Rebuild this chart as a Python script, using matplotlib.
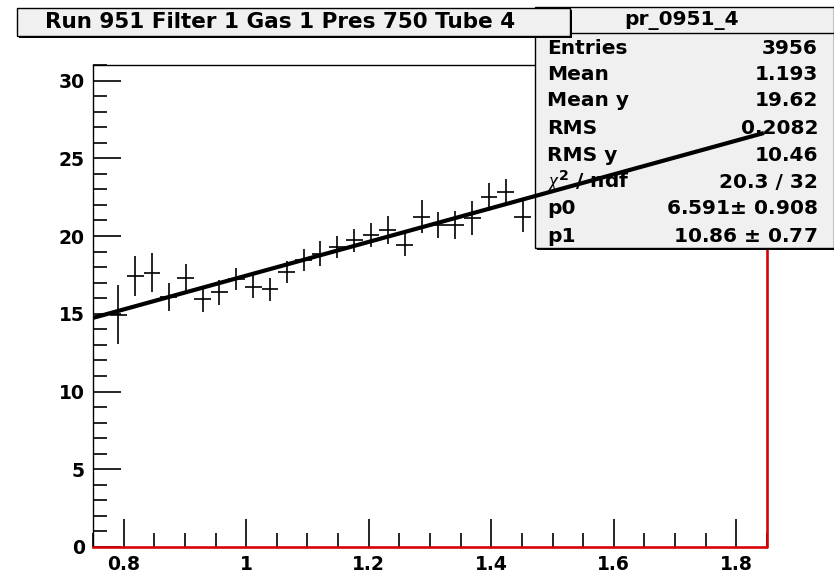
import numpy as np
import matplotlib.pyplot as plt
from matplotlib.patches import Rectangle
from matplotlib.ticker import MultipleLocator

# profile bins (40 bins from 0.75 to 1.85), only the ones that show
x_lo, x_hi, n_bins = 0.75, 1.85, 40
bin_idx = list(range(1, 26))
prof_y = [14.95, 17.42, 17.64, 16.05, 17.32, 15.95, 16.38, 17.25, 16.75, 16.58,
          17.68, 18.45, 18.87, 19.28, 19.73, 20.06, 20.38, 19.45, 21.25, 20.72,
          20.70, 21.15, 22.50, 22.80, 21.25]
prof_err = [1.87, 1.30, 1.25, 0.90, 0.86, 0.86, 0.80, 0.70, 0.75, 0.75,
            0.70, 0.70, 0.80, 0.72, 0.75, 0.77, 0.90, 0.75, 1.05, 0.85,
            0.90, 1.10, 0.90, 0.85, 1.00]

p0, p1 = 6.591, 10.86
fit_x = [0.75, 1.845]

title = "Run 951 Filter 1 Gas 1 Pres 750 Tube 4"
hist_name = "pr_0951_4"
stat_labels = ["Entries", "Mean", "Mean y", "RMS", "RMS y", r"$\chi^{2}$ / ndf", "p0", "p1"]
stat_values = ["3956", "1.193", "19.62", "0.2082", "10.46", "20.3 / 32",
               "6.591$\\pm$ 0.908", "10.86 $\\pm$ 0.77"]

plt.rcParams['font.family'] = ['DejaVu Sans']
plt.rcParams['mathtext.fontset'] = 'custom'
plt.rcParams['mathtext.rm'] = 'DejaVu Sans:bold'
plt.rcParams['mathtext.it'] = 'Liberation Serif:italic'

W, H = 834, 573
fig = plt.figure(figsize=(W / 100, H / 100), dpi=100)

def fx(px):
    return px / W

def fy(py):
    return 1 - py / H

ax = fig.add_axes([fx(93), fy(547), fx(767) - fx(93), fy(65) - fy(547)])
ax.set_xlim(x_lo, x_hi)
ax.set_ylim(0, 31)

bw = (x_hi - x_lo) / n_bins
bx = [x_lo + bw * (i + 0.5) for i in bin_idx]
ax.errorbar(bx, prof_y, yerr=prof_err, xerr=bw / 2, fmt='none',
            ecolor='black', elinewidth=1.2, capsize=0, zorder=3)

# red histogram outline at bottom and right edge
ax.plot([x_lo, x_hi, x_hi], [0, 0, 31], color='#dd0000', lw=1.8, zorder=4, clip_on=False)

fy_fit = [p0 + p1 * v for v in fit_x]
ax.plot(fit_x, fy_fit, color='black', lw=3.0, zorder=20, solid_capstyle='butt')

ax.xaxis.set_major_locator(MultipleLocator(0.2))
ax.xaxis.set_minor_locator(MultipleLocator(0.05))
ax.yaxis.set_major_locator(MultipleLocator(5))
ax.yaxis.set_minor_locator(MultipleLocator(1))
ax.tick_params(which='both', direction='in', top=False, right=False, width=1.2)
ax.tick_params(which='major', length=20, labelsize=13.5, pad=6)
ax.tick_params(which='minor', length=10)
ax.set_xticks([0.8, 1.0, 1.2, 1.4, 1.6, 1.8])
ax.set_xticklabels(["0.8", "1", "1.2", "1.4", "1.6", "1.8"])
for lab in ax.get_xticklabels() + ax.get_yticklabels():
    lab.set_fontweight('bold')
for s in ax.spines.values():
    s.set_linewidth(1.0)

box_bg = '#f0f0f0'
# stat box (drawn under the fit line)
sx0, sy0, sx1, sy1 = 535, 7, 834, 248
ax.add_patch(Rectangle((fx(sx0 + 2), fy(sy1 + 2)), fx(sx1) - fx(sx0), fy(sy0) - fy(sy1),
                       transform=fig.transFigure, facecolor='black', edgecolor='none',
                       zorder=9, clip_on=False))
ax.add_patch(Rectangle((fx(sx0), fy(sy1)), fx(sx1) - fx(sx0), fy(sy0) - fy(sy1),
                       transform=fig.transFigure, facecolor=box_bg, edgecolor='black',
                       lw=1.0, zorder=10, clip_on=False))
ax.plot([fx(sx0), fx(sx1)], [fy(33), fy(33)], transform=fig.transFigure,
        color='black', lw=1.0, zorder=11, clip_on=False)
ax.text(fx(682), fy(20), hist_name, transform=fig.transFigure, ha='center', va='center',
        fontsize=14.5, fontweight='bold', zorder=12)
row_y = [48, 75, 101, 128, 155, 182, 208, 236]
for lab, val, ry in zip(stat_labels, stat_values, row_y):
    ax.text(fx(547), fy(ry), lab, transform=fig.transFigure, ha='left', va='center',
            fontsize=14.5, fontweight='bold', zorder=12)
    ax.text(fx(818), fy(ry), val, transform=fig.transFigure, ha='right', va='center',
            fontsize=14.5, fontweight='bold', zorder=12)

# title box with shadow, on top of stat box
tx0, ty0, tx1, ty1 = 17, 8, 570, 36
ax.add_patch(Rectangle((fx(tx0 + 2), fy(ty1 + 2)), fx(tx1) - fx(tx0), fy(ty0) - fy(ty1),
                       transform=fig.transFigure, facecolor='black', edgecolor='none',
                       zorder=13, clip_on=False))
ax.add_patch(Rectangle((fx(tx0), fy(ty1)), fx(tx1) - fx(tx0), fy(ty0) - fy(ty1),
                       transform=fig.transFigure, facecolor=box_bg, edgecolor='black',
                       lw=1.0, zorder=14, clip_on=False))
ax.text(fx(280), fy(22), title, transform=fig.transFigure, ha='center',
        va='center', fontsize=15.5, fontweight='bold', zorder=15)

fig.savefig('out.png', dpi=100)
